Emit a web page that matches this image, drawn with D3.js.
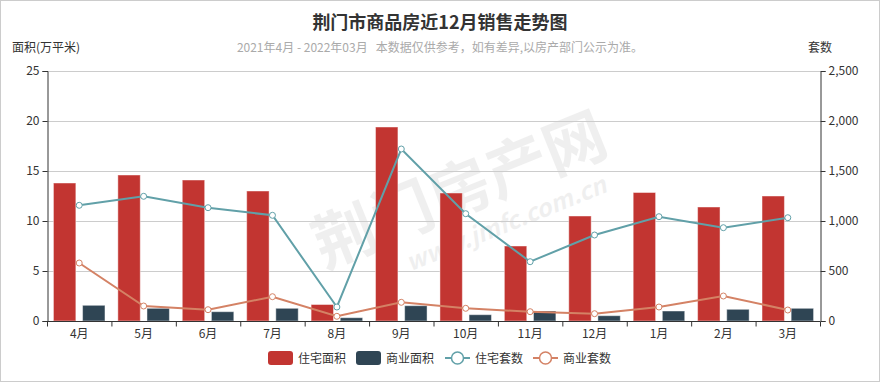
<!DOCTYPE html>
<html><head><meta charset="utf-8">
<script src="https://cdn.jsdelivr.net/npm/d3@7/dist/d3.min.js"></script>
<style>
html,body{margin:0;padding:0;background:#fff;}
svg{display:block;font-family:"Noto Sans CJK SC","Noto Sans",sans-serif;}
</style></head><body>
<svg id="chart" width="880" height="382"></svg>
<script>
const categories = ["4月","5月","6月","7月","8月","9月","10月","11月","12月","1月","2月","3月"];
const resArea = [13.8,14.6,14.1,13.0,1.65,19.4,12.8,7.5,10.5,12.85,11.4,12.5];
const comArea = [1.57,1.27,0.93,1.27,0.33,1.53,0.63,1.0,0.53,1.0,1.17,1.27];
const resCount = [1157,1247,1133,1057,140,1720,1073,593,860,1043,933,1033];
const comCount = [580,150,113,243,47,187,127,93,73,140,250,110];
const leftTicks = [0,5,10,15,20,25];
const rightTicks = [0,500,1000,1500,2000,2500];
const seriesNames = ["住宅面积","商业面积","住宅套数","商业套数"];
const colors = ["#c23531","#2f4554","#61a0a8","#d48265"];

const svg = d3.select("#chart");
const W=880,H=382;
const m={left:47,right:820,top:71,bottom:321};

svg.append("rect").attr("x",0.5).attr("y",0.5).attr("width",W-1).attr("height",H-1)
  .attr("fill","#fff").attr("stroke","#ccc");

// watermark
const wm = svg.append("g").attr("transform","translate(470,215) rotate(-22)").attr("opacity",0.06);
wm.append("text").attr("text-anchor","middle").attr("y",-5).attr("font-size",62).attr("font-weight","bold")
  .attr("fill","#000").text("荆门房产网");
wm.append("text").attr("text-anchor","middle").attr("x",30).attr("y",30).attr("font-size",24).attr("font-weight","bold")
  .attr("font-style","italic").attr("fill","#000").text("www.jmfc.com.cn");

const x = d3.scaleBand().domain(categories).range([m.left,m.right]).paddingInner(0).paddingOuter(0);
const yL = d3.scaleLinear().domain([0,25]).range([m.bottom,m.top]);
const yR = d3.scaleLinear().domain([0,2500]).range([m.bottom,m.top]);

// grid
svg.append("g").selectAll("line").data(leftTicks.slice(1)).join("line")
  .attr("x1",m.left).attr("x2",m.right).attr("y1",d=>yL(d)+0.5).attr("y2",d=>yL(d)+0.5)
  .attr("stroke","#ccc").attr("stroke-width",1);

// bars
const bw = x.bandwidth();
const barW = bw*0.8/2.3;
const gap = barW*0.3;
const off = bw*0.1;
const bars = [resArea, comArea];
bars.forEach((arr,i)=>{
  svg.append("g").selectAll("rect").data(arr).join("rect")
    .attr("x",(d,j)=>x(categories[j])+off+i*(barW+gap))
    .attr("y",d=>yL(d))
    .attr("width",barW)
    .attr("height",d=>yL(0)-yL(d))
    .attr("fill",colors[i])
    .attr("stroke","rgba(255,255,255,0.45)").attr("stroke-width",1);
});

// axes
const fmt = d3.format(",");
const axL = svg.append("g").attr("transform",`translate(${m.left+0.5},0)`)
  .call(d3.axisLeft(yL).tickValues(leftTicks).tickSize(5).tickPadding(3));
const axR = svg.append("g").attr("transform",`translate(${m.right+0.5},0)`)
  .call(d3.axisRight(yR).tickValues(rightTicks).tickFormat(fmt).tickSize(5).tickPadding(3));
const axB = svg.append("g").attr("transform",`translate(0,${m.bottom+0.5})`)
  .call(d3.axisBottom(x).tickSize(5).tickPadding(3).tickSizeOuter(0));
axB.selectAll(".tick line").remove();
axB.append("g").selectAll("line").data(d3.range(categories.length+1)).join("line")
  .attr("x1",d=>m.left+d*bw+0.5).attr("x2",d=>m.left+d*bw+0.5).attr("y1",0).attr("y2",5)
  .attr("stroke","#333");
[axL,axR,axB].forEach(a=>{
  a.select(".domain").attr("stroke","#333");
  a.selectAll(".tick line").attr("stroke","#333");
  a.selectAll("text").attr("fill","#333").attr("font-size",12)
   .attr("font-family","'Noto Sans CJK SC','Noto Sans',sans-serif");
});
axB.select(".domain").attr("d",`M${m.left},0H${m.right}`);

// lines
[[resCount,colors[2]],[comCount,colors[3]]].forEach(([arr,c])=>{
  const line = d3.line().x((d,j)=>x(categories[j])+bw/2).y(d=>yR(d));
  svg.append("path").datum(arr).attr("d",line).attr("fill","none")
    .attr("stroke",c).attr("stroke-width",2);
  svg.append("g").selectAll("circle").data(arr).join("circle")
    .attr("cx",(d,j)=>x(categories[j])+bw/2).attr("cy",d=>yR(d)).attr("r",3)
    .attr("fill","#fff").attr("stroke",c).attr("stroke-width",1);
});

// titles
svg.append("text").attr("x",440).attr("y",29).attr("text-anchor","middle")
  .attr("font-size",18).attr("font-weight","bold").attr("fill","#333").text("荆门市商品房近12月销售走势图");
svg.append("text").attr("x",440).attr("y",52).attr("text-anchor","middle")
  .attr("font-size",12).attr("fill","#aaa").attr("xml:space","preserve")
  .text("2021年4月 - 2022年03月   本数据仅供参考，如有差异,以房产部门公示为准。");
svg.append("text").attr("x",12).attr("y",52).attr("font-size",12).attr("fill","#333").text("面积(万平米)");
svg.append("text").attr("x",832).attr("y",52).attr("text-anchor","end").attr("font-size",12).attr("fill","#333").text("套数");

// legend
const legX = [268,356,445,533];
const lg = svg.append("g");
seriesNames.forEach((n,i)=>{
  const g = lg.append("g").attr("transform",`translate(${legX[i]},358)`);
  if(i<2){
    g.append("rect").attr("x",0).attr("y",-7).attr("width",25).attr("height",14).attr("rx",3)
      .attr("fill",colors[i]);
  } else {
    g.append("line").attr("x1",0).attr("x2",25).attr("y1",0).attr("y2",0).attr("stroke",colors[i]).attr("stroke-width",2);
    g.append("circle").attr("cx",12.5).attr("cy",0).attr("r",6).attr("fill","#fff").attr("stroke",colors[i]).attr("stroke-width",1.5);
  }
  g.append("text").attr("x",30).attr("y",4.5).attr("font-size",12).attr("fill","#333").text(n);
});
</script>
</body></html>
